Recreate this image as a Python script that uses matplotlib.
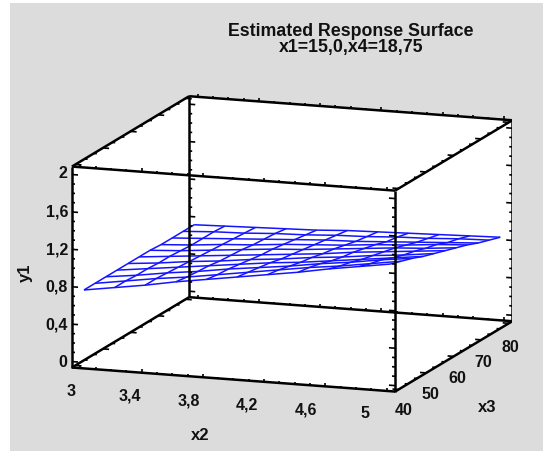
import numpy as np
import matplotlib
matplotlib.use('Agg')
import matplotlib.pyplot as plt
from mpl_toolkits.mplot3d.art3d import Poly3DCollection

x2 = [3.0, 3.2, 3.4, 3.6, 3.8, 4.0, 4.2, 4.4, 4.6, 4.8, 5.0]
x3 = [40, 44, 48, 52, 56, 60, 64, 68, 72, 76, 80]
# y1 rows go with x3, columns with x2
y1 = [
    [.75, .80, .85, .91, .96, 1.01, 1.06, 1.11, 1.17, 1.22, 1.27],
    [.75, .80, .85, .89, .94, .99, 1.04, 1.09, 1.13, 1.18, 1.23],
    [.75, .79, .84, .88, .93, .97, 1.01, 1.06, 1.10, 1.15, 1.19],
    [.75, .79, .83, .87, .91, .95, .98, 1.02, 1.06, 1.10, 1.14],
    [.75, .78, .82, .85, .89, .92, .96, .99, 1.03, 1.06, 1.10],
    [.75, .78, .81, .84, .87, .90, .93, .97, 1.00, 1.03, 1.06],
    [.75, .77, .80, .83, .86, .88, .91, .94, .97, .99, 1.02],
    [.74, .76, .79, .81, .84, .86, .88, .91, .93, .96, .98],
    [.74, .76, .78, .80, .82, .84, .85, .87, .89, .91, .93],
    [.74, .76, .77, .79, .80, .82, .83, .85, .86, .88, .89],
    [.74, .75, .76, .77, .78, .80, .81, .82, .83, .84, .85],
]
x2_lim = (2.944, 5.056)
x3_lim = (38.73, 81.27)
y1_lim = (-0.0635, 2.085)

x2_ticks = [3, 3.4, 3.8, 4.2, 4.6, 5]
x3_ticks = [40, 50, 60, 70, 80]
y1_ticks = [0, 0.4, 0.8, 1.2, 1.6, 2]
x2_labels = ['3', '3,4', '3,8', '4,2', '4,6', '5']
x3_labels = ['40', '50', '60', '70', '80']
y1_labels = ['0', '0,4', '0,8', '1,2', '1,6', '2']

W, H = 543, 452
plt.rcParams['font.family'] = ['Liberation Sans', 'DejaVu Sans']
plt.rcParams['font.weight'] = 'bold'

fig = plt.figure(figsize=(W / 100, H / 100), dpi=100, facecolor='white')
fig.patches.append(plt.Rectangle((10 / W, 0), 1, 1 - 4 / H, transform=fig.transFigure,
                                 facecolor='#dcdcdc', edgecolor='none', figure=fig, zorder=-5))


def px_text(px, py, s, size=11.5, va='center', **kw):
    fig.text(px / W, 1 - py / H, s, fontsize=size, ha='center', va=va, color='#111111', **kw)


ax = fig.add_axes([14.5 / W, -25.0 / H, 1.0, 1.0], projection='3d', computed_zorder=False)
ax.patch.set_alpha(0)
ax.set_proj_type('ortho')
ax.view_init(elev=12.2, azim=-70.6)
ax.set_box_aspect((1, 1.03, 0.6), zoom=1.145)
ax.set_xlim(*x2_lim)
ax.set_ylim(*x3_lim)
ax.set_zlim(*y1_lim)
ax.set_axis_off()

xa, xb = x2_lim
ya, yb = x3_lim
za, zb = y1_lim

# white inside of the box
faces = [
    [(xa, ya, za), (xb, ya, za), (xb, yb, za), (xa, yb, za)],
    [(xa, ya, zb), (xb, ya, zb), (xb, yb, zb), (xa, yb, zb)],
    [(xa, ya, za), (xa, yb, za), (xa, yb, zb), (xa, ya, zb)],
    [(xb, ya, za), (xb, yb, za), (xb, yb, zb), (xb, ya, zb)],
    [(xa, ya, za), (xb, ya, za), (xb, ya, zb), (xa, ya, zb)],
    [(xa, yb, za), (xb, yb, za), (xb, yb, zb), (xa, yb, zb)],
]
ax.add_collection3d(Poly3DCollection(faces, facecolors='white', edgecolors='none'))

X, Y = np.meshgrid(x2, x3)
ax.plot_wireframe(X, Y, np.array(y1), color='#1414ff', lw=1.1)

edge = dict(color='black', lw=1.8, solid_capstyle='butt')
for y in (ya, yb):
    for z in (za, zb):
        ax.plot([xa, xb], [y, y], [z, z], **edge)
for x in (xa, xb):
    for z in (za, zb):
        ax.plot([x, x], [ya, yb], [z, z], **edge)
for x in (xa, xb):
    for y in (ya, yb):
        ax.plot([x, x], [y, y], [za, zb], **edge)

# tick marks on all twelve edges
tick = dict(color='black', lw=1.2, solid_capstyle='butt')
for v in np.arange(3, 5.01, 0.1):
    long = min(abs(v - t) for t in x2_ticks) < 1e-6
    dz = 0.035 if long else 0.02
    for y in (ya, yb):
        for z in (za, zb):
            ax.plot([v, v], [y, y], [z, z + dz], **tick)
for i in range(13):
    v = 40 + i * 10 / 3
    dx = 0.04 if i % 3 == 0 else 0.02
    for z in (za, zb):
        ax.plot([xa, xa + dx], [v, v], [z, z], **tick)
        ax.plot([xb, xb - dx], [v, v], [z, z], **tick)
for v in np.arange(0, 2.01, 0.1):
    long = min(abs(v - t) for t in y1_ticks) < 1e-6
    dx = 0.04 if long else 0.02
    for y in (ya, yb):
        ax.plot([xa, xa + dx], [y, y], [v, v], **tick)
        ax.plot([xb, xb - dx], [y, y], [v, v], **tick)

px_text(351, 36, 'Estimated Response Surface', size=12.8, va='baseline')
px_text(351, 52, 'x1=15,0,x4=18,75', size=12.8, va='baseline')

for s, px, py in zip(x2_labels, np.linspace(71, 365, 6), np.linspace(392, 414, 6)):
    px_text(px, py, s)
for s, px, py in zip(x3_labels, np.linspace(404, 510, 5), np.linspace(411, 347, 5)):
    px_text(px, py, s)
for s, py in zip(y1_labels, np.linspace(363, 174, 6)):
    px_text(63 if len(s) == 1 else 57, py, s)

px_text(200, 436, 'x2', size=12)
px_text(487, 408, 'x3', size=12)
px_text(25, 273, 'y1', size=12, rotation=90)

fig.savefig('out.png', dpi=100)
